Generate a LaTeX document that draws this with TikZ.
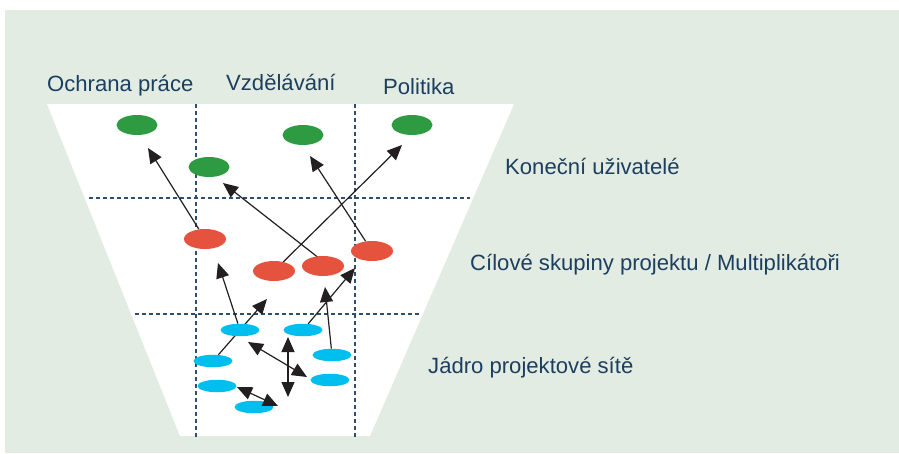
\documentclass[tikz,border=0pt]{standalone}
\usepackage{fontspec}
\setmainfont{Liberation Sans}
\usetikzlibrary{shapes.geometric, arrows.meta}
\definecolor{bggreen}{HTML}{E2ECE2}
\definecolor{navy}{HTML}{1D3F5F}
\definecolor{sepblue}{HTML}{2E4F70}
\definecolor{topgreen}{HTML}{2E9A41}
\definecolor{midred}{HTML}{E5533F}
\definecolor{coreblue}{HTML}{00BEEE}
\definecolor{arrblack}{HTML}{231F20}
\pgfdeclarelayer{back}
\pgfdeclarelayer{links}
\pgfsetlayers{back,links,main}

\begin{document}
\begin{tikzpicture}[x=1pt, y=-1pt,
		lbl/.style={text=navy, font=\fontsize{22.1}{26}\selectfont, inner sep=0pt, anchor=base west},
		sep/.style={sepblue, line width=1.1pt, dash pattern=on 4pt off 3pt},
		enduser/.style={ellipse, fill=topgreen, minimum width=41pt, minimum height=20pt, inner sep=0pt},
		target/.style={ellipse, fill=midred, minimum width=42pt, minimum height=20pt, inner sep=0pt},
		core/.style={ellipse, fill=coreblue, minimum width=39pt, minimum height=12.5pt, inner sep=0pt},
		arr/.style={-{Triangle[length=15pt, width=13pt]}, line width=1.2pt, arrblack},
		darr/.style={{Triangle[length=15pt, width=13pt]}-{Triangle[length=15pt, width=13pt]}, line width=1.2pt, arrblack}]
		\useasboundingbox (0,0) rectangle (899,453);
		
		\begin{pgfonlayer}{back}
			\fill[white] (0,0) rectangle (899,453);
			\fill[bggreen] (5,10) rectangle (899,453);
			\fill[white] (47,104) -- (514,104) -- (370,436) -- (180,436) -- cycle;
			
			% dividers
			\draw[sep] (196,104) -- (196,437);
			\draw[sep] (355,104) -- (355,437);
			\draw[sep] (89,198) -- (470,198);
			\draw[sep] (135,314) -- (419,314);
		\end{pgfonlayer}
		
		% koncovi uzivatele
		\node[enduser] (G1) at (137,125) {};
		\node[enduser] (G2) at (209,167) {};
		\node[enduser] (G3) at (303,135) {};
		\node[enduser] (G4) at (412,125) {};
		
		% multiplikatori
		\node[target] (R1) at (205,239) {};
		\node[target] (R2) at (274,271) {};
		\node[target] (R3) at (323,266) {};
		\node[target] (R4) at (372,251) {};
		
		% jadro site
		\node[core] (B1) at (240,330) {};
		\node[core] (B2) at (303,330) {};
		\node[core] (B3) at (213,361) {};
		\node[core] (B4) at (332,355) {};
		\node[core] (B5) at (217,386) {};
		\node[core] (B6) at (330,380) {};
		\node[core] (B7) at (254,407) {};
		
		% arrow tips
		\coordinate (t1) at (148,148);
		\coordinate (t2) at (223,183);
		\coordinate (t3) at (402,145);
		\coordinate (t4) at (310,156);
		\coordinate (t5) at (218,263);
		\coordinate (t6) at (267,299);
		\coordinate (t7) at (355,268);
		\coordinate (t8) at (325,287);
		\coordinate (d1a) at (248,342);
		\coordinate (d1b) at (307,377);
		\coordinate (d2a) at (288,337);
		\coordinate (d2b) at (288,397);
		\coordinate (d3a) at (237,387);
		\coordinate (d3b) at (278,406);
		
		\begin{pgfonlayer}{links}
			\draw[arr] (R1) -- (t1);
			\draw[arr] ([xshift=6pt]R3.center) -- (t2);
			\draw[arr] (R2) -- (t3);
			\draw[arr] (R4) -- (t4);
			\draw[arr] (B1) -- (t5);
			\draw[arr] (B3) -- (t6);
			\draw[arr] (B2) -- (t7);
			\draw[arr] (B4) -- (t8);
		\end{pgfonlayer}
		\draw[darr] (d1a) -- (d1b);
		\draw[darr] (d2a) -- (d2b);
		\draw[darr] (d3a) -- (d3b);
		
		% popisky
		\node[lbl] (ochrana) at (47,91) {Ochrana práce};
		\node[lbl] (vzdel) at (226,90) {Vzdělávání};
		\node[lbl] (polit) at (383,94) {Politika};
		\node[lbl] (konec) at (505,174) {Koneční uživatelé};
		\node[lbl] (cil) at (470,270) {Cílové skupiny projektu / Multiplikátoři};
		\node[lbl] (jadro) at (428,373) {Jádro projektové sítě};
	\end{tikzpicture}
\end{document}
